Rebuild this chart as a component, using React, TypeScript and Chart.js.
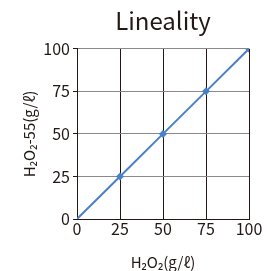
import React, { useEffect, useRef } from "react";
import { Chart, registerables } from "chart.js";

Chart.register(...registerables);

const xValues = [0, 25, 50, 75, 100];
const yValues = [0, 25, 50, 75, 100];
const pointSizes = [0, 4, 4, 4, 4];
const titleText = "Lineality";
const xTitle = "H₂O₂(g/ℓ)";
const yTitle = "H₂O₂-55(g/ℓ)";

const FONT = "'Noto Sans CJK JP', 'Noto Sans', sans-serif";
const DARK = "#231815";
const BLUE = "#4a80c8";

export default function App() {
  const ref = useRef<HTMLCanvasElement>(null);
  useEffect(() => {
    const ctx = ref.current!;
    const chart = new Chart(ctx, {
      type: "line",
      data: {
        datasets: [
          {
            data: xValues.map((x, i) => ({ x, y: yValues[i] })),
            borderColor: BLUE,
            backgroundColor: BLUE,
            borderWidth: 2,
            pointStyle: "rectRot",
            pointRadius: pointSizes,
            pointBorderWidth: 0,
            pointHoverRadius: pointSizes,
          },
        ],
      },
      options: {
        animation: false,
        responsive: false,
        maintainAspectRatio: false,
        layout: { padding: { left: 20, right: 18, top: 0, bottom: 0 } },
        plugins: {
          legend: { display: false },
          tooltip: { enabled: false },
          title: {
            display: true,
            text: titleText,
            fullSize: false,
            color: DARK,
            font: { family: FONT, size: 24, weight: "normal" },
            padding: { top: 6, bottom: 14 },
          },
        },
        scales: {
          x: {
            type: "linear",
            min: 0,
            max: 100,
            ticks: {
              stepSize: 25,
              color: DARK,
              font: { family: FONT, size: 16 },
              padding: 0,
            },
            grid: {
              color: DARK,
              lineWidth: 1,
              drawTicks: false,
            },
            border: { color: DARK, width: 1 },
            title: {
              display: true,
              text: xTitle,
              color: DARK,
              font: { family: FONT, size: 15 },
              padding: { top: 10, bottom: 0 },
            },
            afterFit: (s: any) => {
              s.height = 52;
            },
          },
          y: {
            type: "linear",
            min: 0,
            max: 100,
            ticks: {
              stepSize: 25,
              color: DARK,
              font: { family: FONT, size: 16 },
              padding: 3,
            },
            grid: {
              color: (c: any) => (c.tick && c.tick.value === 0 ? DARK : "#8a8a8a"),
              lineWidth: 1,
              tickLength: 4,
              tickColor: DARK,
            },
            border: { color: DARK, width: 1 },
            title: {
              display: true,
              text: yTitle,
              color: DARK,
              font: { family: FONT, size: 15 },
              padding: { top: 0, bottom: 4 },
            },
            afterFit: (s: any) => {
              s.width = 57;
            },
          },
        },
      },
    });
    return () => chart.destroy();
  }, []);
  return (
    <div style={{ position: "fixed", left: 0, top: 0, width: 267, height: 271, background: "#fff" }}>
      <canvas ref={ref} width={267} height={271} />
    </div>
  );
}
